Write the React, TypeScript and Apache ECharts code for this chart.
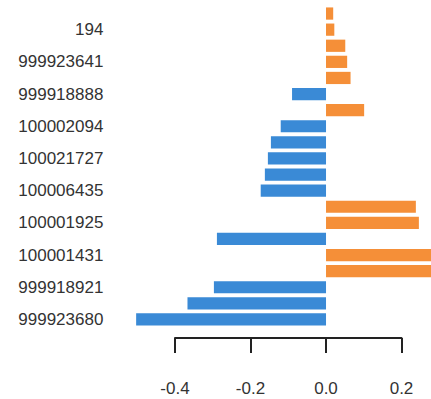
import React, { useEffect, useRef } from "react";
import * as echarts from "echarts";

// Bars listed top to bottom
const barLabels = [
  "", "194", "", "999923641", "", "999918888", "", "100002094", "", "100021727",
  "", "100006435", "", "100001925", "", "100001431", "", "999918921", "", "999923680",
];
const barValues = [
  0.019, 0.022, 0.051, 0.056, 0.065, -0.09, 0.101, -0.12, -0.146, -0.154,
  -0.162, -0.173, 0.238, 0.246, -0.289, 0.3, 0.3, -0.297, -0.367, -0.503,
];
const tickValues = [-0.4, -0.2, 0.0, 0.2];

const BLUE = "#3a8ad6";
const ORANGE = "#f58f38";
const FONT = "'Liberation Sans', Arial, Helvetica, sans-serif";

export default function App() {
  const ref = useRef<HTMLDivElement>(null);
  useEffect(() => {
    if (!ref.current) return;
    const chart = echarts.init(ref.current, null, { renderer: "svg" });
    const cats = barLabels.map((_, i) => "c" + i);
    chart.setOption({
      animation: false,
      backgroundColor: "#ffffff",
      grid: [
        { left: 118.4, right: 0, top: 5.5, height: 322, outerBoundsMode: "none" },
        { left: 175, width: 226.5, top: 337, height: 1, outerBoundsMode: "none" },
      ],
      xAxis: [
        {
          gridIndex: 0,
          type: "value",
          min: -0.55,
          max: 0.2781,
          show: false,
        },
        {
          gridIndex: 1,
          type: "value",
          min: -0.4,
          max: 0.2,
          interval: 0.2,
          axisLine: { show: true, lineStyle: { color: "#222", width: 2 } },
          axisTick: { show: true, inside: false, length: 15, lineStyle: { color: "#222", width: 2 } },
          splitLine: { show: false },
          axisLabel: {
            margin: 42,
            fontSize: 17,
            lineHeight: 17,
            color: "#333",
            fontFamily: FONT,
            formatter: (v: number) => {
              const t = tickValues.find((x) => Math.abs(x - v) < 1e-9);
              return t === undefined ? "" : t.toFixed(1);
            },
          },
        },
      ],
      yAxis: [
        {
          gridIndex: 0,
          type: "category",
          data: cats,
          inverse: true,
          axisLine: { show: false },
          axisTick: { show: false },
          splitLine: { show: false },
          axisLabel: {
            interval: 0,
            margin: 15,
            fontSize: 17,
            color: "#333",
            fontFamily: FONT,
            formatter: (_v: string, i: number) => barLabels[i],
          },
        },
        {
          gridIndex: 1,
          type: "value",
          show: false,
        },
      ],
      series: [
        {
          type: "bar",
          xAxisIndex: 0,
          yAxisIndex: 0,
          data: barValues,
          clip: true,
          barCategoryGap: "24%",
          itemStyle: {
            color: (p: any) => (p.value < 0 ? BLUE : ORANGE),
          },
        },
      ],
    });
    return () => chart.dispose();
  }, []);
  return (
    <div
      ref={ref}
      style={{ position: "fixed", left: 0, top: 0, width: 431, height: 399 }}
    />
  );
}
